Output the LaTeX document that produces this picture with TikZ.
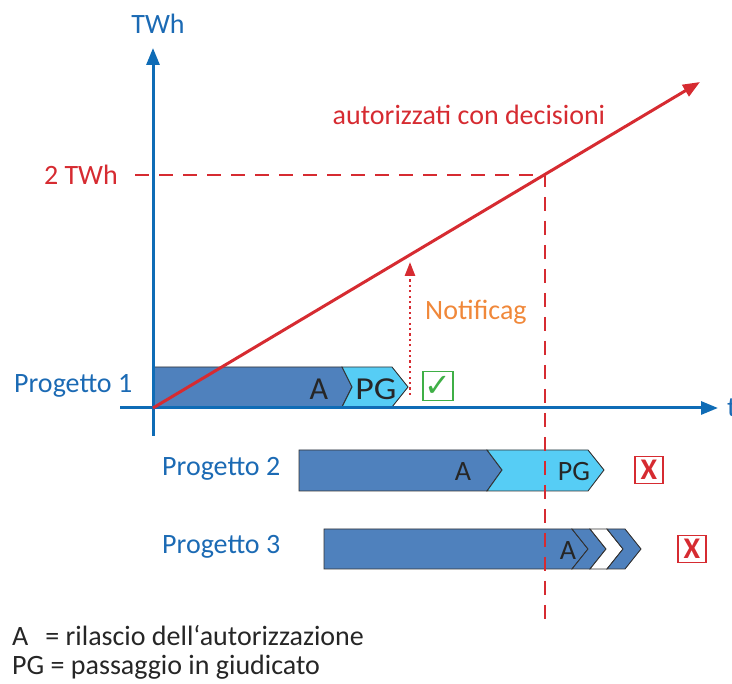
\documentclass[tikz,border=0pt]{standalone}
\usepackage{fontspec}
\setmainfont{Carlito}
\newfontfamily\symfont{DejaVu Sans}
\usetikzlibrary{arrows.meta}
\definecolor{axblue}{HTML}{0F6CB6}
\definecolor{lblblue}{HTML}{1B6AB4}
\definecolor{myred}{HTML}{D62B31}
\definecolor{barblue}{HTML}{4F81BD}
\definecolor{barlight}{HTML}{56CDF5}
\definecolor{orng}{HTML}{F0883A}
\definecolor{okgreen}{HTML}{3FAF46}
\definecolor{txtdark}{HTML}{262626}
\begin{document}
\begin{tikzpicture}[x=1pt,y=-1pt,
  font=\fontsize{28}{33}\selectfont,
  axis/.style={draw=axblue,line width=3pt,-{Triangle[length=17pt,width=13pt]}},
  redline/.style={draw=myred,line width=3pt,-{Triangle[length=17pt,width=13pt]}},
  reddash/.style={draw=myred,line width=2.8pt,dash pattern=on 14pt off 10pt},
  dotarrow/.style={draw=myred,line width=2.6pt,dash pattern=on 2.2pt off 3.2pt,-{Triangle[length=14pt,width=10pt]}},
  seg/.style={draw=black!80,line width=0.9pt},
  bartext/.style={text=txtdark,inner sep=0pt},
  bigbartext/.style={text=txtdark,inner sep=0pt,font=\fontsize{32}{34}\selectfont},
  proj/.style={text=lblblue,inner sep=0pt},
  okbox/.style={draw=okgreen,line width=1.5pt,minimum width=30pt,minimum height=29pt,inner sep=0pt,text=okgreen},
  nobox/.style={draw=myred,line width=1.5pt,minimum width=28pt,minimum height=27pt,inner sep=0pt,text=myred,font=\fontsize{30}{30}\selectfont\bfseries},
]
\useasboundingbox (0,0) rectangle (732,684);
% coordinates
\coordinate (O) at (153,408);
\coordinate (ybot) at (153,436);
\coordinate (ytop) at (153,48);
\coordinate (xl) at (120,408);
\coordinate (xr) at (718,408);
\coordinate (rtip) at (700,82);
\coordinate (hl) at (135,175);
\coordinate (cross) at (545,175);
\coordinate (vb) at (545,620);
\coordinate (nb) at (410,395);
\coordinate (nt) at (410,262);

% bars Progetto 1
\path[seg,fill=barblue] (153,367) -- (342,367) -- (352,387) -- (342,407) -- (153,407) -- cycle;
\path[seg,fill=barlight] (342,367) -- (392,367) -- (408,387) -- (392,407) -- (342,407) -- (352,387) -- cycle;
% bars Progetto 2
\path[seg,fill=barblue] (299,450) -- (487,450) -- (502,470) -- (487,491) -- (299,491) -- cycle;
\path[seg,fill=barlight] (487,450) -- (588,450) -- (604,470) -- (588,491) -- (487,491) -- (502,470) -- cycle;
% bars Progetto 3
\path[seg,fill=barblue] (324,529) -- (572,529) -- (588,549) -- (572,569) -- (324,569) -- cycle;
\path[seg,fill=barblue] (572,529) -- (590,529) -- (606,549) -- (590,569) -- (572,569) -- (588,549) -- cycle;
\path[seg,fill=white] (590,529) -- (607,529) -- (623,549) -- (607,569) -- (590,569) -- (606,549) -- cycle;
\path[seg,fill=barblue] (607,529) -- (625,529) -- (641,549) -- (625,569) -- (607,569) -- (623,549) -- cycle;

% axes
\draw[axis] (ybot) -- (ytop);
\draw[axis] (xl) -- (xr);
\node[proj,anchor=south] (twh) at (158,34) {TWh};
\node[proj,anchor=west] (t) at (727,408) {t};

% red lines
\draw[reddash] (hl) -- (cross) -- (vb);
\draw[redline] (O) -- (rtip);
\draw[dotarrow] (nb) -- (nt);

% labels
\node[text=myred,anchor=east,inner sep=0pt] (twolbl) at (118,175) {2 TWh};
\node[text=myred,inner sep=0pt] (aut) at (469,115) {autorizzati con decisioni};
\node[text=orng,anchor=west,inner sep=0pt] (notif) at (425,312) {Notificag};

\node[proj,anchor=west] (p1) at (14,386) {Progetto 1};
\node[proj,anchor=west] (p2) at (162,469) {Progetto 2};
\node[proj,anchor=west] (p3) at (162,547) {Progetto 3};

\node[bigbartext] (a1) at (319,389) {A};
\node[bigbartext,xscale=1.12] (pg1) at (376,389) {PG};
\node[bartext] (a2) at (463,472) {A};
\node[bartext] (pg2) at (574,472) {PG};
\node[bartext] (a3) at (568,551) {A};

\node[okbox] (ok) at (438,386) {\symfont\fontsize{32}{32}\selectfont ✓};
\node[nobox] (no2) at (649,470) {X};
\node[nobox] (no3) at (692,549) {X};

\node[anchor=west,inner sep=0pt,text=txtdark] (leg1) at (12,636) {A\hspace{17pt}= rilascio dell‘autorizzazione};
\node[anchor=west,inner sep=0pt,text=txtdark] (leg2) at (12,667) {PG = passaggio in giudicato};
\end{tikzpicture}
\end{document}
